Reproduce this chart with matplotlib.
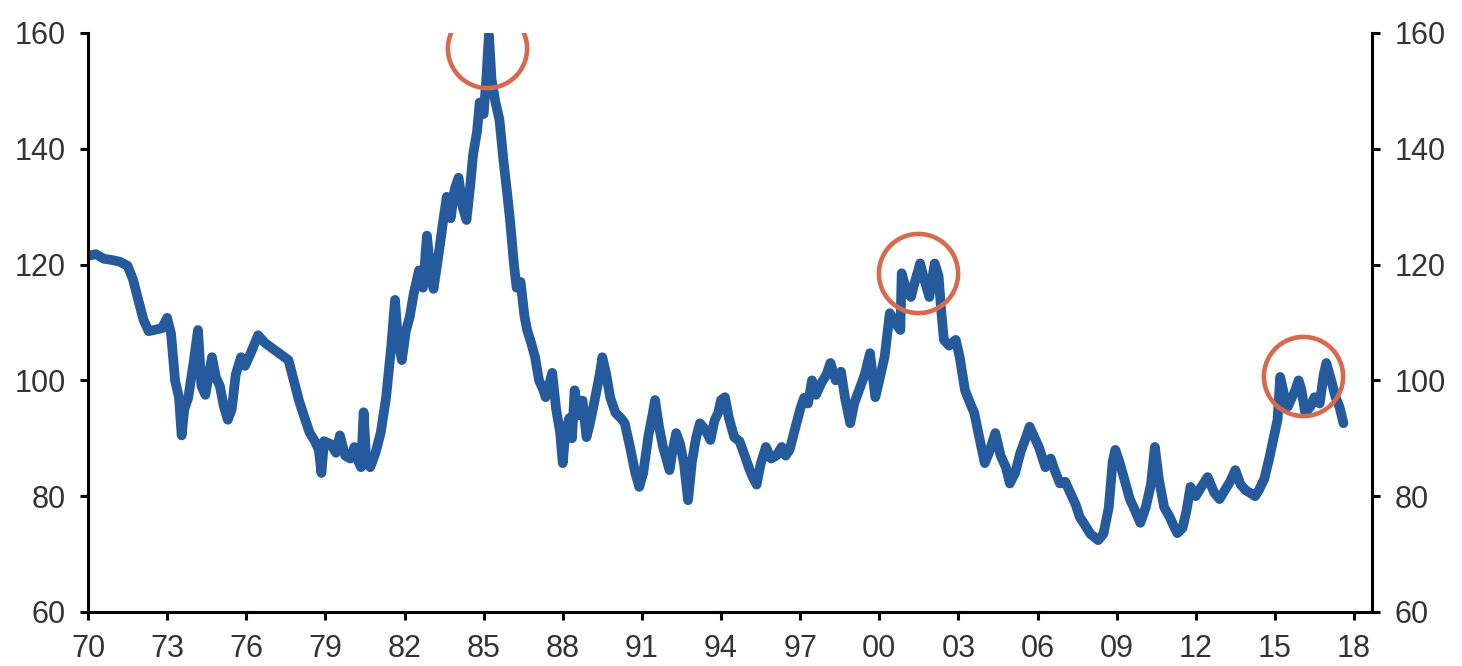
import matplotlib
matplotlib.use("Agg")
import matplotlib.pyplot as plt

# --- data (year, index level) ---
years = [
    1970.0, 1970.3, 1970.6, 1970.9, 1971.2, 1971.5, 1971.7, 1971.9, 1972.1, 1972.3,
    1972.6, 1972.8, 1973.0, 1973.15, 1973.3, 1973.45, 1973.55, 1973.65, 1973.8, 1974.0,
    1974.17, 1974.3, 1974.45, 1974.6, 1974.7, 1974.85, 1975.0, 1975.15, 1975.3, 1975.45,
    1975.6, 1975.8, 1975.95, 1976.15, 1976.45, 1976.7, 1977.0, 1977.3, 1977.6, 1977.8,
    1978.0, 1978.2, 1978.4, 1978.6, 1978.75, 1978.85, 1978.95, 1979.2, 1979.4, 1979.55,
    1979.75, 1979.95, 1980.1, 1980.25, 1980.35, 1980.45, 1980.55, 1980.7, 1980.9, 1981.1,
    1981.3, 1981.5, 1981.64, 1981.75, 1981.9, 1982.05, 1982.2, 1982.35, 1982.55, 1982.7,
    1982.85, 1983.0, 1983.1, 1983.3, 1983.45, 1983.6, 1983.75, 1983.9, 1984.05, 1984.2,
    1984.35, 1984.5, 1984.6, 1984.75, 1984.85, 1985.0, 1985.1, 1985.2, 1985.3, 1985.45,
    1985.6, 1985.75, 1985.9, 1986.0, 1986.15, 1986.25, 1986.4, 1986.55, 1986.65, 1986.8,
    1986.95, 1987.1, 1987.25, 1987.35, 1987.5, 1987.6, 1987.75, 1987.9, 1988.0, 1988.1,
    1988.25, 1988.35, 1988.45, 1988.6, 1988.75, 1988.9, 1989.05, 1989.25, 1989.4, 1989.5,
    1989.65, 1989.8, 1990.0, 1990.2, 1990.35, 1990.55, 1990.75, 1990.9, 1991.05, 1991.25,
    1991.4, 1991.5, 1991.65, 1991.8, 1992.05, 1992.15, 1992.3, 1992.45, 1992.6, 1992.75,
    1992.9, 1993.05, 1993.2, 1993.4, 1993.6, 1993.75, 1993.9, 1994.0, 1994.15, 1994.3,
    1994.5, 1994.7, 1994.9, 1995.05, 1995.2, 1995.35, 1995.5, 1995.7, 1995.9, 1996.1,
    1996.3, 1996.45, 1996.6, 1996.8, 1997.0, 1997.15, 1997.3, 1997.45, 1997.6, 1997.8,
    1998.0, 1998.15, 1998.35, 1998.55, 1998.7, 1998.9, 1999.05, 1999.25, 1999.45, 1999.65,
    1999.85, 2000.0, 2000.2, 2000.4, 2000.6, 2000.8, 2000.85, 2001.0, 2001.2, 2001.35,
    2001.55, 2001.7, 2001.9, 2002.1, 2002.25, 2002.35, 2002.45, 2002.65, 2002.9, 2003.05,
    2003.25, 2003.45, 2003.6, 2003.8, 2004.0, 2004.2, 2004.4, 2004.6, 2004.8, 2004.95,
    2005.15, 2005.35, 2005.55, 2005.7, 2005.85, 2006.05, 2006.3, 2006.5, 2006.65, 2006.85,
    2007.05, 2007.25, 2007.45, 2007.6, 2007.8, 2008.0, 2008.3, 2008.5, 2008.7, 2008.85,
    2008.95, 2009.1, 2009.3, 2009.5, 2009.7, 2009.9, 2010.1, 2010.3, 2010.45, 2010.6,
    2010.8, 2011.0, 2011.15, 2011.3, 2011.5, 2011.65, 2011.8, 2012.0, 2012.2, 2012.45,
    2012.7, 2012.9, 2013.1, 2013.3, 2013.5, 2013.7, 2013.9, 2014.05, 2014.25, 2014.4,
    2014.6, 2014.8, 2014.95, 2015.1, 2015.2, 2015.35, 2015.5, 2015.6, 2015.75, 2015.9,
    2016.0, 2016.15, 2016.35, 2016.5, 2016.7, 2016.85, 2016.95, 2017.1, 2017.3, 2017.45,
    2017.6,
]
values = [
    121.5, 121.8, 121.0, 120.8, 120.5, 119.8, 117.5, 114.0, 110.5, 108.5,
    108.8, 109.0, 110.8, 108.0, 100.0, 97.0, 90.5, 95.0, 97.0, 103.0,
    108.7, 99.0, 97.5, 101.5, 104.0, 100.5, 99.0, 95.5, 93.2, 95.0,
    101.0, 104.0, 102.5, 104.5, 107.8, 106.5, 105.5, 104.5, 103.5, 100.0,
    96.5, 93.7, 91.0, 89.5, 88.0, 84.0, 89.5, 89.0, 87.5, 90.5,
    87.0, 86.5, 88.5, 86.0, 85.0, 94.5, 86.0, 85.0, 87.5, 91.0,
    97.0, 106.0, 113.9, 107.0, 103.5, 108.5, 111.0, 115.0, 119.0, 116.0,
    125.0, 118.0, 115.8, 122.0, 127.0, 131.7, 128.0, 133.0, 135.0, 130.0,
    127.7, 134.0, 139.0, 143.0, 148.0, 146.0, 152.0, 159.7, 152.0, 148.0,
    145.0, 138.0, 132.0, 127.7, 120.0, 116.0, 117.0, 111.0, 108.7, 106.5,
    104.0, 100.0, 98.5, 97.1, 99.5, 101.3, 95.0, 91.0, 85.7, 91.0,
    93.5, 90.0, 98.3, 94.0, 96.5, 90.2, 93.0, 97.5, 101.0, 104.0,
    101.0, 97.0, 94.4, 93.5, 92.6, 88.5, 84.0, 81.6, 84.0, 90.5,
    94.0, 96.6, 92.0, 88.5, 84.5, 87.5, 90.9, 89.0, 85.5, 79.3,
    86.0, 90.0, 92.6, 91.5, 89.7, 93.0, 94.5, 96.6, 97.1, 93.5,
    90.2, 89.5, 87.0, 85.0, 83.3, 82.0, 85.5, 88.5, 86.5, 87.0,
    88.5, 87.0, 88.0, 91.5, 95.0, 97.0, 96.0, 100.0, 97.5, 99.5,
    101.0, 103.0, 100.0, 101.5, 97.0, 92.6, 96.0, 98.5, 101.0, 104.7,
    97.1, 100.0, 104.0, 111.6, 110.0, 108.7, 118.5, 116.0, 114.4, 117.0,
    120.2, 117.5, 114.4, 120.2, 118.0, 112.0, 107.0, 106.0, 107.0, 104.0,
    98.3, 96.0, 94.4, 90.0, 85.7, 88.0, 90.9, 87.0, 85.0, 82.2,
    84.0, 87.5, 90.0, 92.0, 90.5, 88.5, 85.0, 86.5, 84.5, 82.2,
    82.5, 80.5, 78.5, 76.4, 75.0, 73.5, 72.4, 73.5, 78.0, 86.0,
    88.0, 86.0, 82.8, 79.5, 77.5, 75.4, 78.0, 82.0, 88.5, 83.0,
    78.1, 76.5, 75.0, 73.6, 74.5, 77.5, 81.6, 80.0, 81.5, 83.3,
    80.6, 79.5, 81.0, 82.5, 84.5, 82.0, 81.0, 80.6, 80.0, 81.1,
    83.0, 86.8, 90.0, 93.2, 100.6, 97.5, 95.5, 96.6, 98.0, 100.0,
    98.5, 94.4, 95.5, 97.1, 96.0, 101.0, 103.0, 100.6, 97.1, 95.4,
    92.6,
]

# circled peaks (year, level)
peak_years = [1985.13, 2001.47, 2016.07]
peak_values = [157.4, 118.5, 100.8]

tick_years = list(range(1970, 2019, 3))
tick_labels = [f"{y % 100:02d}" for y in tick_years]
y_ticks = [60, 80, 100, 120, 140, 160]

plt.rcParams['font.family'] = ['Liberation Sans', 'DejaVu Sans']

fig = plt.figure(figsize=(14.62, 6.66), dpi=100)
ax = fig.add_axes([0.0602, 0.0811, 0.8782, 0.8694])

ax.plot(years, values, color='#255a9c', lw=7, solid_joinstyle='round', solid_capstyle='round')
ax.plot(peak_years, peak_values, 'o', ms=57, mfc='none', mec='#d66a4e', mew=3.3)

ax.set_xlim(1970, 2018.68)
ax.set_ylim(60, 160)
ax.set_xticks(tick_years)
ax.set_xticklabels(tick_labels)
ax.set_yticks(y_ticks)

ax.spines['top'].set_visible(False)
for s in ['left', 'right', 'bottom']:
    ax.spines[s].set_linewidth(2.2)
    ax.spines[s].set_color('black')

ax.tick_params(axis='both', direction='out', length=6, width=2.2,
               labelsize=22, labelcolor='#333333', pad=10)
ax.tick_params(axis='y', right=True, labelright=True)

fig.savefig("out.png", dpi=100)
